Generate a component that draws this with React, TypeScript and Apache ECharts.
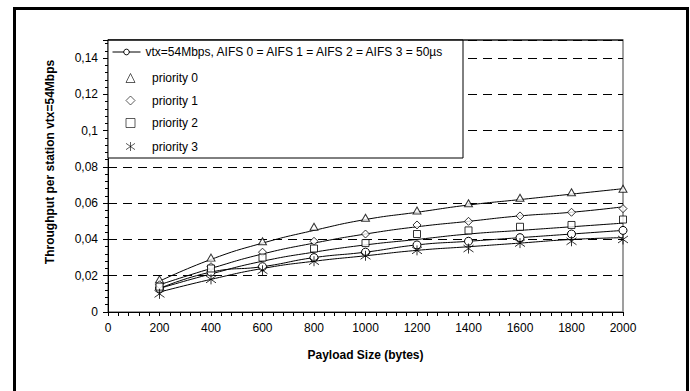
import React, { useEffect, useRef } from "react";
import * as echarts from "echarts";

const payloadSizes = [200, 400, 600, 800, 1000, 1200, 1400, 1600, 1800, 2000];
const yTicks = [0, 0.02, 0.04, 0.06, 0.08, 0.1, 0.12, 0.14];

const vtxName = "vtx=54Mbps, AIFS 0 = AIFS 1 = AIFS 2 = AIFS 3 = 50µs";
const priorityNames = ["priority 0", "priority 1", "priority 2", "priority 3"];

// measured points
const vtxPoints = [0.013, 0.022, 0.025, 0.030, 0.033, 0.037, 0.039, 0.041, 0.043, 0.045];
const p0Points = [0.018, 0.030, 0.039, 0.047, 0.052, 0.056, 0.060, 0.063, 0.066, 0.068];
const p1Points = [0.015, 0.025, 0.033, 0.039, 0.043, 0.048, 0.050, 0.053, 0.055, 0.057];
const p2Points = [0.014, 0.024, 0.030, 0.035, 0.038, 0.043, 0.045, 0.047, 0.048, 0.051];
const p3Points = [0.010, 0.018, 0.023, 0.028, 0.031, 0.034, 0.035, 0.038, 0.039, 0.040];

// curves
const p0Curve = [0.017, 0.029, 0.038, 0.045, 0.051, 0.055, 0.059, 0.062, 0.065, 0.068];
const p1Curve = [0.015, 0.024, 0.032, 0.038, 0.043, 0.047, 0.050, 0.053, 0.055, 0.058];
const p2Curve = [0.013, 0.021, 0.028, 0.033, 0.037, 0.040, 0.043, 0.045, 0.047, 0.049];
const p3Curve = [0.011, 0.018, 0.024, 0.028, 0.031, 0.034, 0.036, 0.038, 0.040, 0.041];

const starPath = "path://M0,-5L0,5M-5,-3.5L5,3.5M-5,3.5L5,-3.5";
const prioritySymbols = ["triangle", "diamond", "rect", starPath];

const FONT = "Liberation Sans, Arial, sans-serif";

export default function App() {
  const ref = useRef<HTMLDivElement>(null);
  useEffect(() => {
    if (!ref.current) return;
    const chart = echarts.init(ref.current, undefined, { renderer: "svg" });
    const pair = (arr: number[]) => payloadSizes.map((x, i) => [x, arr[i]]);
    const markerStyle = { color: "#ffffff", borderColor: "#000000", borderWidth: 1 };
    const curve = (name: string, arr: number[]) => ({
      name,
      type: "line",
      smooth: true,
      showSymbol: false,
      symbol: "none",
      data: pair(arr),
      lineStyle: { color: "#000", width: 1 },
      z: 2,
    });
    const scatter = (name: string, arr: number[], symbol: string, size: any) => ({
      name,
      type: "scatter",
      symbol,
      symbolSize: size,
      data: pair(arr),
      itemStyle: symbol === starPath
        ? { color: "none", borderColor: "#000", borderWidth: 1 }
        : markerStyle,
      z: 3,
    });
    const option: any = {
      animation: false,
      backgroundColor: "#ffffff",
      textStyle: { fontFamily: FONT },
      grid: {
        left: 108,
        right: 67,
        top: 40,
        bottom: 79,
        show: true,
        borderColor: "#808080",
        borderWidth: 1.5,
        backgroundColor: "#ffffff",
      },
      legend: [
        {
          left: 112,
          top: 46,
          orient: "vertical",
          data: [vtxName],
          padding: 0,
          itemWidth: 28,
          itemHeight: 7,
          lineStyle: { width: 1, color: "#000" },
          itemStyle: { color: "#fff", borderColor: "#000", borderWidth: 1 },
          textStyle: { fontFamily: FONT, fontSize: 12, color: "#000" },
          z: 10,
        },
        {
          left: 123.5,
          top: 72,
          orient: "vertical",
          data: priorityNames.map((n, i) => ({ name: n, icon: prioritySymbols[i] })),
          padding: 0,
          itemWidth: 9,
          itemHeight: 9,
          itemGap: 10.5,
          itemStyle: { borderWidth: 0.8 },
          textStyle: { fontFamily: FONT, fontSize: 12, color: "#000", padding: [0, 0, 0, 12] },
          z: 10,
        },
      ],
      xAxis: {
        type: "value",
        min: 0,
        max: 2000,
        interval: 200,
        name: "Payload Size (bytes)",
        nameLocation: "middle",
        nameGap: 37,
        nameTextStyle: { fontFamily: FONT, fontSize: 12, fontWeight: "bold", color: "#000" },
        axisLine: { show: true, onZero: false, lineStyle: { color: "#000", width: 1 } },
        axisTick: { show: true, inside: false, length: 4, lineStyle: { color: "#000" } },
        minorTick: { show: true, splitNumber: 5, length: 4, lineStyle: { color: "#000" } },
        axisLabel: {
          fontFamily: FONT,
          fontSize: 12,
          color: "#000",
          margin: 10,
          formatter: (v: number) => String(Math.round(v)),
        },
        splitLine: { show: false },
      },
      yAxis: {
        type: "value",
        min: 0,
        max: 0.15,
        interval: 0.02,
        axisLine: { show: true, lineStyle: { color: "#000", width: 1 } },
        axisTick: { show: true, inside: false, length: 5, lineStyle: { color: "#000" } },
        minorTick: { show: true, splitNumber: 5, length: 3, lineStyle: { color: "#000" } },
        axisLabel: {
          fontFamily: FONT,
          fontSize: 12,
          color: "#000",
          margin: 10,
          showMaxLabel: false,
          formatter: (v: number) => {
            const t = yTicks.find((k) => Math.abs(k - v) < 1e-9);
            if (t === undefined) return "";
            return t === 0 ? "0" : String(+t.toFixed(2)).replace(".", ",");
          },
        },
        splitLine: {
          show: true,
          lineStyle: { color: "#000", width: 1, type: [9, 6] },
        },
      },
      graphic: [
        {
          type: "rect",
          left: 12,
          top: 6,
          shape: { x: 0, y: 0, width: 673, height: 420 },
          style: { fill: "none", stroke: "#000", lineWidth: 3 },
          silent: true,
        },
        {
          type: "rect",
          z: 8,
          shape: { x: 108, y: 40, width: 355, height: 118 },
          style: { fill: "#fff", stroke: "#000", lineWidth: 1 },
          silent: true,
        },
        {
          type: "line",
          z: 8,
          shape: { x1: 108, y1: 40, x2: 623, y2: 40 },
          style: { stroke: "#000", lineWidth: 1 },
          silent: true,
        },
        {
          type: "text",
          x: 50,
          y: 162,
          rotation: Math.PI / 2,
          style: {
            text: "Throughput per station vtx=54Mbps",
            fontFamily: FONT,
            fontSize: 12,
            fontWeight: "bold",
            fill: "#000",
            align: "center",
            verticalAlign: "middle",
          },
        },
      ],
      series: [
        {
          name: vtxName,
          type: "line",
          smooth: true,
          symbol: "circle",
          symbolSize: 8,
          showSymbol: true,
          data: pair(vtxPoints),
          itemStyle: markerStyle,
          lineStyle: { color: "#000", width: 1 },
          z: 3,
        },
        curve("c0", p0Curve),
        curve("c1", p1Curve),
        curve("c2", p2Curve),
        curve("c3", p3Curve),
        scatter(priorityNames[0], p0Points, "triangle", [8, 7]),
        scatter(priorityNames[1], p1Points, "diamond", [8, 8]),
        scatter(priorityNames[2], p2Points, "rect", [7, 7]),
        scatter(priorityNames[3], p3Points, starPath, [10, 10]),
      ],
    };
    chart.setOption(option);
    return () => chart.dispose();
  }, []);
  return (
    <div
      ref={ref}
      style={{ position: "absolute", left: 0, top: 0, width: 690, height: 391, background: "#fff" }}
    />
  );
}
